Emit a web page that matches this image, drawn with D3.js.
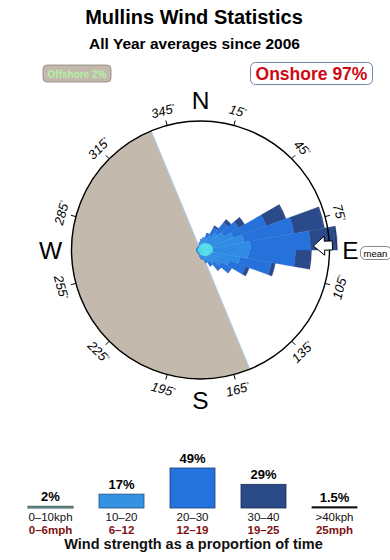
<!DOCTYPE html>
<html><head><meta charset="utf-8">
<script src="https://cdn.jsdelivr.net/npm/d3@7"></script>
<style>
body{margin:0;background:#fff}
svg{display:block;font-family:"Liberation Sans",Arial,Helvetica,sans-serif}
</style>
</head><body>
<svg id="chart" width="390" height="560"></svg>
<script>
// ---------------- data ----------------
const titleText = "Mullins Wind Statistics";
const subtitleText = "All Year averages since 2006";
const offshoreText = "Offshore 2%";
const onshoreText = "Onshore 97%";

// direction bins (start angle, degrees clockwise from north), each 10° wide
const directions = [0,10,20,30,40,50,60,70,80,90,100,110,120,130,140,150,160,170,
                    180,190,200,210,220,230,240,250,260,270,280,290,300,310,320,330,340,350];
// % of time per direction for each speed class
const speed0to10  = [0.034,0.050,0.068,0.088,0.112,0.138,0.167,0.199,0.199,0.199,0.167,0.138,0.112,0.088,0.068,0.050,0.034,0.034,
                     0.022,0.012,0.009,0.009,0.009,0.009,0.009,0.009,0.009,0.009,0.009,0.009,0.009,0.009,0.009,0.009,0.022,0.022];
const speed10to20 = [0.077,0.117,0.166,0.310,0.556,0.868,1.523,2.472,3.250,2.980,2.040,1.188,0.683,0.359,0.203,0.117,0.077,0.054,
                     0.028,0.022,0.008,0.008,0.008,0.008,0.008,0.008,0.008,0.008,0.008,0.008,0.008,0.008,0.008,0.008,0.028,0.046];
const speed20to30 = [0.055,0.066,0.166,0.534,1.120,1.665,5.070,9.780,13.244,9.272,4.944,1.853,0.895,0.486,0.228,0.103,0.026,0.023,
                     0.018,0.000,0.005,0.005,0.005,0.005,0.005,0.005,0.005,0.005,0.005,0.005,0.005,0.005,0.005,0.005,0.000,0.021];
const speed30to40 = [0,0,0.048,0.149,0.419,0.917,4.415,9.105,8.450,4.242,0.817,0.552,0.098,0.073,0,0,0,0,
                     0,0,0,0,0,0,0,0,0,0,0,0,0,0,0,0,0,0];
const speedOver40 = [0,0,0,0,0,0,0.250,0.346,0.750,0.305,0,0,0,0,0,0,0,0,
                     0,0,0,0,0,0,0,0,0,0,0,0,0,0,0,0,0,0];

const speedClasses = ["0–10kph","10–20","20–30","30–40",">40kph"];
const mphLabels    = ["0–6mph","6–12","12–19","19–25","25mph"];
const speedShares  = [2,17,49,29,1.5];
const shareLabels  = ["2%","17%","49%","29%","1.5%"];

const tickAngles = [15,45,75,105,135,165,195,225,255,285,315,345];
const cardinals = ["N","E","S","W"];
const cardinalAngles = [0,90,180,270];
const offshoreSector = [157.5, 337.5];
const meanDirection = 88;
const binWidth = 10;
const maxFreq = 23; // radial domain (cumulative % in one direction at rim)

// ---------------- drawing ----------------
const svg = d3.select("#chart");
const cx = 200.5, cy = 250, R = 129;
const rad = d => d * Math.PI / 180;
const polar = (a, r) => [cx + r * Math.sin(rad(a)), cy - r * Math.cos(rad(a))];

// titles
svg.append("text").attr("x",194).attr("y",24).attr("text-anchor","middle")
  .style("font-size","20px").style("font-weight","bold").text(titleText);
svg.append("text").attr("x",194.5).attr("y",48.5).attr("text-anchor","middle")
  .style("font-size","15.5px").style("font-weight","bold").text(subtitleText);

// offshore / onshore boxes
svg.append("rect").attr("x",43).attr("y",65).attr("width",68).attr("height",17).attr("rx",4)
  .attr("fill","#c3b8ac").attr("stroke","#8c847c").attr("stroke-width",0.8);
svg.append("text").attr("x",77).attr("y",77.5).attr("text-anchor","middle")
  .style("font-size","10px").style("font-weight","bold").attr("fill","#b4f0a4").text(offshoreText);
svg.append("rect").attr("x",250.5).attr("y",62.5).attr("width",122).attr("height",22).attr("rx",5)
  .attr("fill","#fff").attr("stroke","#6a86a8").attr("stroke-width",1);
svg.append("text").attr("x",311.5).attr("y",79.5).attr("text-anchor","middle")
  .style("font-size","17.5px").style("font-weight","bold").attr("fill","#cc0a14").text(onshoreText);

const g = svg.append("g").attr("transform",`translate(${cx},${cy})`);

// background disc
g.append("circle").attr("r",R).attr("fill","#fff");

// offshore sector
g.append("path")
  .attr("d", d3.arc()({innerRadius:0, outerRadius:R, startAngle:rad(offshoreSector[0]), endAngle:rad(offshoreSector[1])}))
  .attr("fill","#c4b9ad");
offshoreSector.forEach(a => {
  const p = polar(a, R);
  g.append("line").attr("x1",0).attr("y1",0).attr("x2",p[0]-cx).attr("y2",p[1]-cy)
    .attr("stroke","#a9cdee").attr("stroke-width",1);
});

// rose
const rScale = d3.scaleSqrt().domain([0, maxFreq]).range([0, R]);
const series = [speed0to10, speed10to20, speed20to30, speed30to40, speedOver40];
const roseColors = ["#4fdbe8","#2f8be3","#2771db","#2a4a8a","#22386e"];
const arc = d3.arc();
for (let k = series.length - 1; k >= 0; k--) {
  directions.forEach((dir, i) => {
    let lo = 0; for (let j = 0; j < k; j++) lo += series[j][i];
    const hi = lo + series[k][i];
    if (series[k][i] <= 0) return;
    g.append("path")
      .attr("d", arc({innerRadius: rScale(lo), outerRadius: rScale(hi),
                      startAngle: rad(dir), endAngle: rad(dir + binWidth)}))
      .attr("fill", roseColors[k]).attr("stroke", roseColors[k]).attr("stroke-width",0.4);
  });
}

// rim
g.append("circle").attr("r",R).attr("fill","none").attr("stroke","#000").attr("stroke-width",1.4);

// mean direction arrow (pointing to centre)
(function(){
  const a = meanDirection;
  const pt = (r, off) => {
    const x = r * Math.sin(rad(a)) + off * Math.cos(rad(a));
    const y = -r * Math.cos(rad(a)) + off * Math.sin(rad(a));
    return [x, y];
  };
  const pts = [pt(113,0), pt(124,-9.5), pt(124,-4.5), pt(132,-4.5), pt(132,4.5), pt(124,4.5), pt(124,9.5)];
  g.append("path").attr("d", d3.line()(pts) + "Z")
    .attr("fill","#fff").attr("stroke","#000").attr("stroke-width",1);
})();

// ticks
tickAngles.forEach(a => {
  const p1 = polar(a, R), p2 = polar(a, R + 5);
  g.append("line").attr("x1",p1[0]-cx).attr("y1",p1[1]-cy).attr("x2",p2[0]-cx).attr("y2",p2[1]-cy)
    .attr("stroke","#000").attr("stroke-width",1);
  const p = polar(a, 144);
  const rot = (a > 90 && a < 270) ? a - 180 : (a > 270 ? a - 360 : a);
  const t = g.append("text")
    .attr("transform",`translate(${p[0]-cx},${p[1]-cy}) rotate(${rot})`)
    .attr("text-anchor","middle").attr("dy","0.36em")
    .style("font-size","13px").style("font-style","italic");
  t.append("tspan").text(a);
  t.append("tspan").attr("dy","-0.55em").style("font-size","7px").text("°");
});

// cardinal letters
cardinals.forEach((c, i) => {
  const p = polar(cardinalAngles[i], 150);
  g.append("text").attr("x",p[0]-cx).attr("y",p[1]-cy).attr("dy","0.36em")
    .attr("text-anchor","middle").style("font-size","24.5px").text(c);
});

// "mean" tag
svg.append("rect").attr("x",360.5).attr("y",246.5).attr("width",31).attr("height",13).attr("rx",5)
  .attr("fill","#fff").attr("stroke","#666").attr("stroke-width",0.8);
svg.append("text").attr("x",375.5).attr("y",256.5).attr("text-anchor","middle")
  .style("font-size","9.5px").text("mean");

// ---------------- speed legend ----------------
const xL = d3.scalePoint().domain(speedClasses).range([50.5, 334.5]);
const hL = d3.scaleLinear().domain([0, 49]).range([0, 40]);
const baseY = 508, barW = 45;
const legendFill = ["#58bab2","#3592e2","#2672dc","#2b4a88","#111"];
const legendStroke = ["#5a6a6a","#24507e","#1c3e78","#1a2c55","#111"];
speedClasses.forEach((c, i) => {
  const h = hL(speedShares[i]);
  const x = xL(c) - barW/2;
  svg.append("rect").attr("x",x).attr("y",baseY - h).attr("width",barW).attr("height",h)
    .attr("fill",legendFill[i]).attr("stroke",legendStroke[i]).attr("stroke-width",i === 0 ? 1.2 : 0.8);
  svg.append("text").attr("x",xL(c)).attr("y",baseY - h - 5).attr("text-anchor","middle")
    .style("font-size","13px").style("font-weight","bold").text(shareLabels[i]);
  svg.append("text").attr("x",xL(c)).attr("y",521).attr("text-anchor","middle")
    .style("font-size","11.5px").attr("fill","#111").text(c);
  svg.append("text").attr("x",xL(c)).attr("y",533.5).attr("text-anchor","middle")
    .style("font-size","11.5px").style("font-weight","bold").attr("fill","#7e1212").text(mphLabels[i]);
});
svg.append("text").attr("x",193.5).attr("y",548.5).attr("text-anchor","middle")
  .style("font-size","14.5px").style("font-weight","bold").attr("fill","#111")
  .text("Wind strength as a proportion of time");
</script>
</body></html>
